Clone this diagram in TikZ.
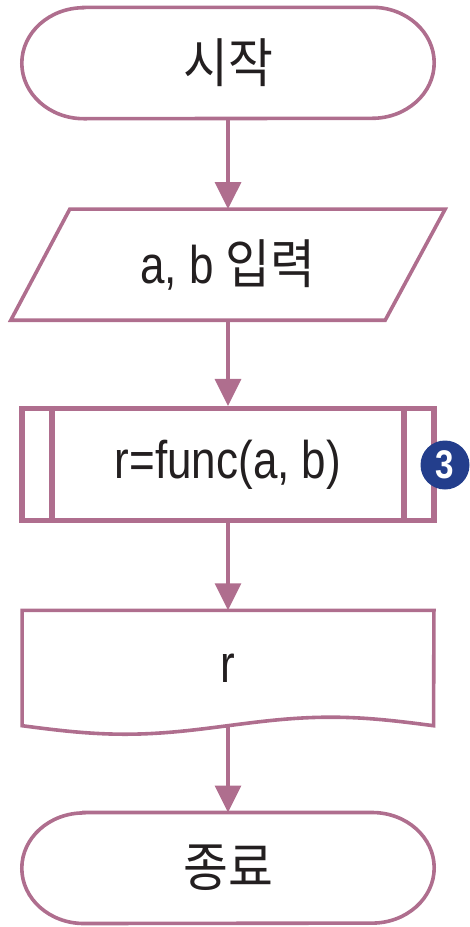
\documentclass[tikz,border=0pt]{standalone}
\usepackage{fontspec}
\setmainfont{Liberation Sans}[FakeStretch=0.83]
\newfontfamily\kr{Noto Sans CJK KR}[FakeStretch=0.92]
\usetikzlibrary{arrows.meta}
\definecolor{flowpink}{HTML}{AF6E8E}
\definecolor{navy}{HTML}{233E8C}
\definecolor{ink}{HTML}{231F20}
\tikzset{
  holder/.style={rectangle, inner sep=0pt, text=ink, font=\fontsize{53}{60}\selectfont},
  shapeline/.style={draw=flowpink, line width=3.6pt, line join=miter},
  procline/.style={draw=flowpink, line width=5.5pt},
  conn/.style={draw=flowpink, line width=3.3pt, -{Triangle[length=27pt,width=26pt]}},
  badgestyle/.style={circle, fill=navy, inner sep=0pt, minimum size=49pt, text=white,
    font=\fontsize{40}{40}\selectfont\bfseries}
}
\begin{document}
\begin{tikzpicture}[x=1pt,y=1pt]
\useasboundingbox (0,0) rectangle (470,-927);
% start terminal
\node[holder, minimum width=412pt, minimum height=111pt] (start) at (228,-63) {\kr 시작};
\draw[shapeline] ([xshift=62pt]start.north west) -- ([xshift=-62pt]start.north east)
  arc[start angle=90, end angle=-90, x radius=62pt, y radius=55.5pt]
  -- ([xshift=62pt]start.south west)
  arc[start angle=270, end angle=90, x radius=62pt, y radius=55.5pt] -- cycle;
% input parallelogram
\node[holder, minimum width=434pt, minimum height=110.7pt] (input) at (228,-264.65) {a, b {\kr 입력}};
\draw[shapeline] ([xshift=59pt]input.north west) -- (input.north east)
  -- ([xshift=-60pt]input.south east) -- (input.south west) -- cycle;
% predefined process
\node[holder, procline, minimum width=412pt, minimum height=112pt] (proc) at (228,-464.7) {r=func(a, b)};
\draw[procline] ([xshift=32.5pt]proc.north west) -- ([xshift=32.5pt]proc.south west);
\draw[procline] ([xshift=-33pt]proc.north east) -- ([xshift=-33pt]proc.south east);
\node[badgestyle] (badge) at (445,-465) {3};
% document
\node[holder, minimum width=411.5pt, minimum height=115pt] (out) at (228,-668) {r};
\draw[shapeline] (out.south west) sin +(102.875,-8.5) cos +(102.875,8.5)
  sin +(102.875,8.5) cos +(102.875,-8.5)
  -- (out.north east) -- (out.north west) -- cycle;
% stop terminal
\node[holder, minimum width=412pt, minimum height=110.6pt] (stop) at (228,-868) {\kr 종료};
\draw[shapeline] ([xshift=62pt]stop.north west) -- ([xshift=-62pt]stop.north east)
  arc[start angle=90, end angle=-90, x radius=62pt, y radius=55.3pt]
  -- ([xshift=62pt]stop.south west)
  arc[start angle=270, end angle=90, x radius=62pt, y radius=55.3pt] -- cycle;
% connectors
\draw[conn] (start.south) -- (input.north);
\draw[conn] (input.south) -- (proc.north);
\draw[conn] (proc.south) -- (out.north);
\draw[conn] (out.south) -- (stop.north);
\end{tikzpicture}
\end{document}
